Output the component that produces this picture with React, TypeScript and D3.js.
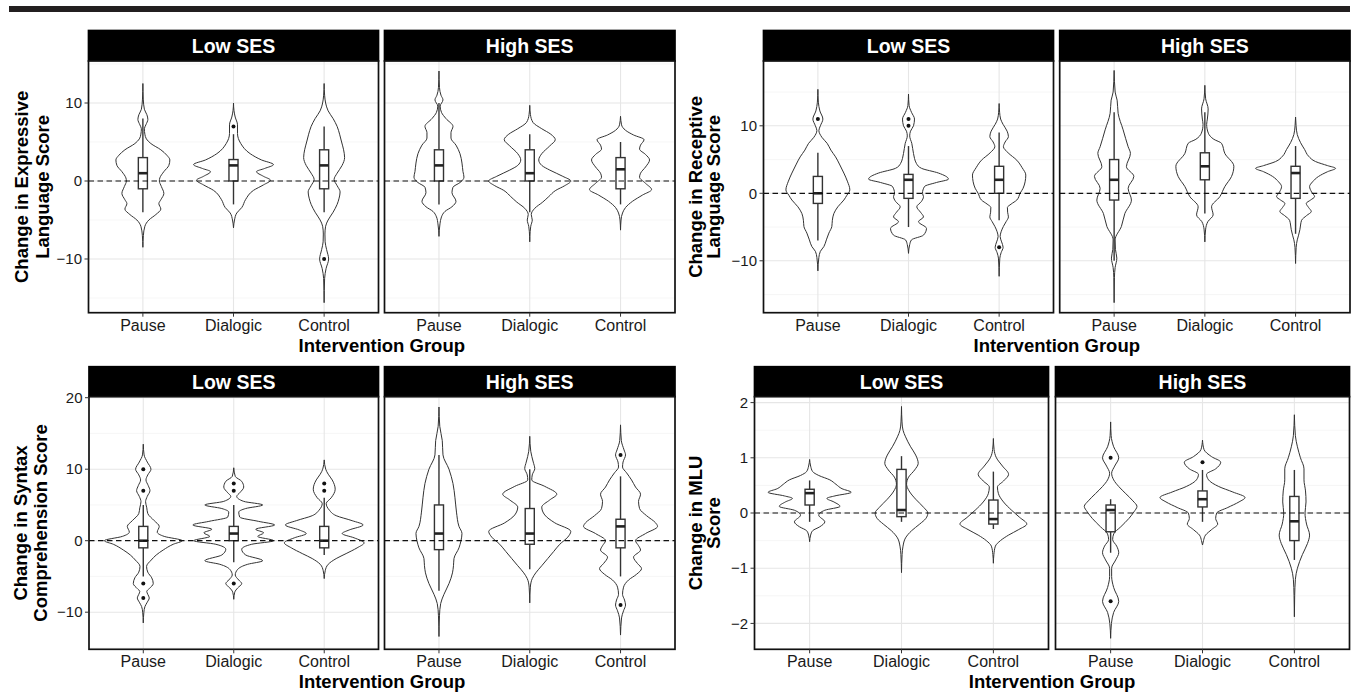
import { scaleLinear, scalePoint, area, curveMonotoneY } from 'd3';

const FONT = '"Liberation Sans", Arial, Helvetica, sans-serif';

const groups = ['Pause', 'Dialogic', 'Control'];
const sesLevels = ['Low SES', 'High SES'];

const measureTitles = [
  ['Change in Expressive', 'Language Score'],
  ['Change in Receptive', 'Language Score'],
  ['Change in Syntax', 'Comprehension Score'],
  ['Change in MLU', 'Score'],
];
const yDomains = [[-16.885, 15.385], [-17.69, 19.6], [-15.19, 20.14], [-2.469, 2.107]];
const majorTicks = [[-10, 0, 10], [-10, 0, 10], [-10, 0, 10, 20], [-2, -1, 0, 1, 2]];
const minorTicks = [[-15, -5, 5, 15], [-15, -5, 5, 15], [-15, -5, 5, 15], [-1.5, -0.5, 0.5, 1.5]];

const exprLowPause = [[12.5,0],[10.5,0.4],[9.2,1.5],[8.5,4],[7.9,5],[7.2,3],[6.7,1.5],[6,2],[5.4,3.5],[4.8,8],[4,18],[3.3,24],[2.7,27],[2,26],[1.2,21],[0.4,17],[0,16.5],[-0.7,18.5],[-1.6,21],[-2.4,18],[-2.9,16],[-3.6,18],[-4.3,13],[-5,6],[-5.8,2],[-7,0.5],[-8.5,0]];
const exprLowDialogic = [[10,0],[9,0.5],[8.2,1.7],[7.2,4],[6.1,4],[4.8,7.3],[3.5,16.7],[2.7,28],[2.1,40],[1.6,31],[1.2,23],[0.6,30],[0.1,37],[-0.5,30],[-1.2,20],[-2.4,12],[-3.4,8.3],[-4.1,3.3],[-5,1],[-6,0]];
const exprLowControl = [[12.5,0],[11,0.5],[10,1.5],[9,4],[8,9],[7,13],[6,15.5],[5,17.5],[4,19.5],[3,20.5],[2,18],[1,13],[0.2,10],[-0.6,13],[-1.4,16],[-2.2,15],[-3,13],[-4,9],[-5,4],[-5.8,1.5],[-6.8,0.8],[-7.8,1],[-8.8,2.5],[-10,4.5],[-11.2,2],[-12.5,0.5],[-15.6,0]];
const exprHighPause = [[14.1,0],[12,0.5],[11,2],[10.4,4],[9.6,1.2],[8.8,2.5],[8,7],[7,14],[6.2,12],[5.5,12],[4.6,17],[3.5,21],[2.3,23],[1.2,24],[0.5,25],[-0.2,21],[-0.8,14],[-1.5,13],[-2.6,17],[-3.3,13],[-3.9,6],[-4.6,2.5],[-5.5,1],[-7.1,0]];
const exprHighDialogic = [[9.7,0],[8.5,0.7],[7.5,3.3],[6.7,12],[6,21],[5.3,25.5],[4.5,20],[3.5,12],[2.7,9],[2,12],[1.4,20],[0.6,33],[0,41],[-0.6,35],[-1.2,26],[-2,19],[-2.7,13],[-3.5,5],[-4.3,1.5],[-5,2.5],[-5.8,1],[-6.5,0.4],[-7.8,0]];
const exprHighControl = [[8.3,0],[7.2,1],[6.5,5],[5.9,13],[5.3,23.5],[4.6,20],[4.1,19],[3.4,25],[2.7,29],[1.8,25],[1,20],[0.5,19],[-0.3,25],[-1.1,31],[-1.8,22],[-2.6,12],[-3.4,5],[-4.1,2],[-5,0.5],[-6.3,0]];

const recLowPause = [[15.4,0],[13.5,0.5],[12.2,2],[11,5],[10,2.5],[9.3,1],[8.3,4],[7.4,9.3],[6.4,13],[5.4,17.7],[4.2,22],[3,26],[1.8,29.5],[0.5,32],[-0.3,29],[-1,26],[-2,20],[-3,16],[-4,14.5],[-4.9,14],[-5.9,11],[-6.9,8.5],[-7.9,6],[-8.6,2.5],[-9.5,1],[-11.5,0]];
const recLowDialogic = [[14.7,0],[13,0.6],[12,3],[11,6],[10,5],[9.2,2],[8.5,1.2],[7.4,3.3],[5.9,5],[4.4,8],[3.7,13],[3,30],[2.1,40],[1.6,28],[1,16],[0,14],[-0.5,15],[-1.2,13],[-2,8.3],[-2.8,12],[-3.5,15],[-4.2,10],[-5.2,18],[-6.2,15],[-6.9,3],[-7.6,1.2],[-8.9,0]];
const recLowControl = [[13.3,0],[12,0.5],[11,1.5],[10.2,4],[9.2,8],[8.4,9.3],[7.6,6],[6.9,4.3],[6,9],[4.9,17.7],[3.8,23],[2.7,26.7],[1.7,26],[0.75,24],[0,21],[-1,17.7],[-1.6,12],[-2.1,8.3],[-2.8,8.5],[-3.5,9.3],[-4.2,7],[-4.9,4.3],[-5.7,2],[-6.4,1],[-7.2,2.5],[-8,4],[-8.8,2],[-9.6,0.7],[-12.3,0]];
const recHighPause = [[18.2,0],[15,1],[13.8,3],[11.85,4],[9.4,9],[6.9,14],[5.9,16.3],[3.95,12.3],[2.5,19.7],[0.74,14],[-1,17.3],[-3,10.7],[-4.9,7.3],[-6.9,1],[-8.3,1.3],[-9.6,2.7],[-11,1],[-12.5,0.3],[-16.2,0]];
const recHighDialogic = [[16,0],[14,0.8],[12.5,3.3],[11,2.5],[10.2,1.8],[8.9,3.5],[8,9],[7.4,16.7],[5.9,20],[4,29],[2.5,26.7],[1,20],[-0.5,15],[-2,6.7],[-3.2,8.3],[-4.2,3],[-5.3,0.8],[-7.2,0]];
const recHighControl = [[11.3,0],[10,0.5],[8.7,1.7],[7.5,5],[6.5,9],[5.5,13],[4.7,20],[4.1,32],[3.7,40],[3.2,32],[2.5,23],[1.7,17],[1,14],[0.2,16],[-0.5,19],[-1,15],[-1.5,10.7],[-2.1,13],[-2.7,15.7],[-3.3,11],[-4,6],[-4.7,5],[-5.4,4.3],[-6.2,3],[-6.9,1.7],[-8,0.6],[-10.4,0]];

const synLowPause = [[13.5,0],[12,0.8],[11,4],[10,7.7],[9.2,4.5],[8.5,2.7],[7.7,5],[7,6.7],[6.2,4],[5.45,2.3],[4.6,3.5],[3.8,4.5],[2.8,11],[2,16],[1.2,14],[0.6,21],[0,39],[-0.5,30],[-1.3,20],[-2,13],[-2.7,8],[-3.6,3.3],[-4.4,4.5],[-5.2,8.5],[-6,10],[-6.7,6],[-7.1,3.5],[-7.5,4.5],[-8,6],[-8.6,4],[-9.2,1.7],[-10,0.6],[-11.5,0]];
const synLowDialogic = [[10.2,0],[9,1.5],[8.3,8],[7.5,10],[6.7,6],[6.2,3],[5.5,10],[5,29],[4.5,12],[4,5],[3.3,6],[2.7,25],[2.2,41],[1.6,22],[1.1,30],[0.6,24],[0,40],[-0.5,18],[-1.2,8],[-2,12],[-2.8,29],[-3.3,14],[-4,4],[-4.8,1.5],[-5.5,5],[-6,8],[-6.6,4],[-7.2,1],[-8.2,0]];
const synLowControl = [[11.3,0],[10,1.5],[9.3,4],[8.5,8],[7.2,11],[6,7],[5.2,2],[4.3,5],[3.5,12],[2.8,28],[2.2,39],[1.5,25],[1,18],[0.4,30],[-0.3,40],[-1,33],[-1.8,22],[-2.5,12],[-3.3,4],[-4.2,1],[-5.3,0]];
const synHighPause = [[18.7,0],[16,0.8],[14,3.3],[12,4],[10,10],[8,14],[6,16],[4,17.5],[2,20],[1,23],[0,22],[-1,20],[-2.5,15],[-3.5,14.5],[-4.5,13.5],[-6,10],[-7.5,5],[-8.8,1.7],[-10.5,0.5],[-13.4,0]];
const synHighDialogic = [[14.6,0],[12.5,1],[11,3.5],[10.1,5],[9.2,2.5],[8.5,2],[7.6,15],[6.5,27],[5.7,20],[4.7,12],[3.6,15],[2.5,25],[1.3,41],[0.5,38],[-0.5,30],[-1.5,24],[-2.5,18],[-3.5,12],[-4.5,6],[-5.3,2.5],[-6.5,0.6],[-8.7,0]];
const synHighControl = [[16.2,0],[14,0.8],[12.7,3.5],[12,5],[11,2.5],[10.3,2],[9.5,6],[8.5,11],[7.5,15],[6.5,20],[5.5,18],[4.5,19],[3.5,26],[2.5,35],[2,37],[1,25],[0,15],[-0.7,18],[-1.3,20],[-2.3,13],[-3.2,17],[-3.9,21],[-4.7,16],[-5.5,8],[-6.5,3],[-7.5,2],[-8.3,4],[-9,5],[-9.8,3],[-10.8,1],[-13.2,0]];

const mluLowPause = [[0.97,0],[0.85,1],[0.75,3],[0.68,9],[0.6,20],[0.52,26],[0.44,32],[0.375,41],[0.31,25],[0.265,17],[0.2,24],[0.12,30],[0.05,15],[-0.04,9],[-0.16,15],[-0.25,10],[-0.32,3],[-0.4,1],[-0.52,0]];
const mluLowDialogic = [[1.93,0],[1.65,0.5],[1.5,1.5],[1.38,4],[1.2,9],[1.05,14],[0.9,16.5],[0.78,13],[0.65,7],[0.52,5],[0.4,7.5],[0.25,14],[0.1,22],[0,26],[-0.1,24],[-0.2,18],[-0.32,10],[-0.45,4],[-0.6,1.5],[-0.75,0.6],[-1.08,0]];
const mluLowControl = [[1.35,0],[1.15,0.7],[1,3],[0.85,9],[0.7,15],[0.58,10],[0.47,4],[0.35,5],[0.2,10],[0.05,18],[-0.08,26],[-0.2,33],[-0.3,25],[-0.4,15],[-0.5,7],[-0.6,2],[-0.75,0.5],[-0.91,0]];
const mluHighPause = [[1.65,0],[1.4,0.5],[1.2,3],[1,8],[0.85,4],[0.72,1],[0.6,3],[0.48,8],[0.35,15],[0.22,22],[0.12,26],[0.02,23],[-0.1,18],[-0.25,10],[-0.38,3],[-0.48,2],[-0.6,6],[-0.72,8],[-0.85,5],[-1,1],[-1.15,1],[-1.35,3],[-1.6,8],[-1.8,3],[-2,0.8],[-2.27,0]];
const mluHighDialogic = [[1.32,0],[1.15,1.5],[1.02,9],[0.92,18],[0.8,13],[0.7,4],[0.6,6],[0.48,16],[0.38,30],[0.28,42],[0.2,36],[0.1,25],[0,14],[-0.1,13],[-0.2,15],[-0.3,9],[-0.4,3],[-0.5,1],[-0.58,0]];
const mluHighControl = [[1.78,0],[1.4,1],[1.2,3],[1,6],[0.8,9.5],[0.6,9.5],[0.4,11],[0.2,11.5],[0,10.5],[-0.2,12],[-0.4,15],[-0.55,13],[-0.75,8],[-1,3],[-1.2,1],[-1.5,0.3],[-1.88,0]];

// boxplots: [lower whisker, Q1, median, Q3, upper whisker]
const exprLowBox = [[-4, -1, 1, 3, 8], [-3, 0, 2, 2.75, 6], [-4, -1, 2, 4, 7]];
const exprHighBox = [[-3, 0, 2, 4, 10], [-4, 0, 1, 4, 6], [-3, -1, 1.5, 3, 5]];
const recLowBox = [[-7, -1.5, 0, 2.5, 6], [-5, -0.75, 2, 2.8, 7], [-4, 0, 2, 4, 9]];
const recHighBox = [[-10, -1, 2, 5, 12], [-3, 2, 4, 6, 12], [-6, -0.75, 3, 4, 7]];
const synLowBox = [[-5, -1, 0, 2, 5], [-3, 0, 1, 2, 5], [-2, -1, 0, 2, 6]];
const synHighBox = [[-7, -1.25, 1, 5, 12], [-4, -0.5, 1, 4.5, 10], [-5, -1, 2, 3, 9]];
const mluLowBox = [[-0.16, 0.145, 0.36, 0.43, 0.59], [-0.16, -0.066, 0.054, 0.79, 1.03], [-0.29, -0.2, -0.11, 0.235, 0.75]];
const mluHighBox = [[-0.72, -0.34, 0.054, 0.145, 0.25], [-0.16, 0.11, 0.25, 0.4, 0.78], [-0.85, -0.5, -0.15, 0.3, 0.78]];

const exprLowOut = [[], [7], [-10]];
const exprHighOut = [[], [], []];
const recLowOut = [[11], [11, 10], [-8]];
const recHighOut = [[], [], []];
const synLowOut = [[10, 7, -6, -8], [8, 7, -6], [8, 7]];
const synHighOut = [[], [], [12, -9]];
const mluLowOut = [[], [], []];
const mluHighOut = [[1, -1.6], [0.92], []];

const violins = [
  [[exprLowPause, exprLowDialogic, exprLowControl], [exprHighPause, exprHighDialogic, exprHighControl]],
  [[recLowPause, recLowDialogic, recLowControl], [recHighPause, recHighDialogic, recHighControl]],
  [[synLowPause, synLowDialogic, synLowControl], [synHighPause, synHighDialogic, synHighControl]],
  [[mluLowPause, mluLowDialogic, mluLowControl], [mluHighPause, mluHighDialogic, mluHighControl]],
];
const boxes = [[exprLowBox, exprHighBox], [recLowBox, recHighBox], [synLowBox, synHighBox], [mluLowBox, mluHighBox]];
const outliers = [[exprLowOut, exprHighOut], [recLowOut, recHighOut], [synLowOut, synHighOut], [mluLowOut, mluHighOut]];

// page layout of the four plots
const layout = [
  { top: 61, bottom: 312.7, stripTop: 30.5, facets: [[88.5, 378.5], [384.5, 675]], titleX: [22, 43] },
  { top: 61, bottom: 312.7, stripTop: 30.5, facets: [[763.5, 1053.5], [1059.7, 1350]], titleX: [695.5, 714] },
  { top: 396.7, bottom: 649.3, stripTop: 366.7, facets: [[89, 378.5], [384.5, 675]], titleX: [21, 41] },
  { top: 396.7, bottom: 649.3, stripTop: 366.7, facets: [[754.5, 1048.5], [1055.5, 1349.5]], titleX: [695.5, 714] },
];

const ink = '#1a1a1a';
const fmt = (v: number) => (v < 0 ? '\u2212' + Math.abs(v) : String(v));

function Facet({ m, f, x0, x1, top, bottom, y }: any) {
  const x = scalePoint<string>().domain(groups).range([x0, x1]).padding(0.6);
  const step = x.step();
  const w = scaleLinear().domain([0, 45]).range([0, 0.496 * step]);
  const boxHalf = 0.05 * step;

  return (
    <g>
      <rect x={x0} y={top} width={x1 - x0} height={bottom - top} fill="#fff" />
      {minorTicks[m].map((t) => (
        <line key={'mi' + t} x1={x0} x2={x1} y1={y(t)} y2={y(t)} stroke="#f2f2f2" strokeWidth={0.7} />
      ))}
      {majorTicks[m].map((t) => (
        <line key={'ma' + t} x1={x0} x2={x1} y1={y(t)} y2={y(t)} stroke="#e6e6e6" strokeWidth={1.1} />
      ))}
      {groups.map((g) => (
        <line key={'v' + g} x1={x(g)} x2={x(g)} y1={top} y2={bottom} stroke="#e6e6e6" strokeWidth={1.1} />
      ))}
      {groups.map((g, i) => {
        const cx = x(g) as number;
        const path = area<number[]>()
          .y((d) => y(d[0]))
          .x0((d) => cx - w(d[1]))
          .x1((d) => cx + w(d[1]))
          .curve(curveMonotoneY);
        const [lo, q1, med, q3, hi] = boxes[m][f][i];
        return (
          <g key={g}>
            <path d={path(violins[m][f][i]) || ''} fill="#fff" stroke="#333" strokeWidth={1} />
            <line x1={cx} x2={cx} y1={y(hi)} y2={y(q3)} stroke="#333" strokeWidth={1.4} />
            <line x1={cx} x2={cx} y1={y(q1)} y2={y(lo)} stroke="#333" strokeWidth={1.4} />
            <rect x={cx - boxHalf} y={y(q3)} width={2 * boxHalf} height={y(q1) - y(q3)} fill="#fff" stroke="#333" strokeWidth={1.4} />
            <line x1={cx - boxHalf} x2={cx + boxHalf} y1={y(med)} y2={y(med)} stroke="#222" strokeWidth={2.6} />
            {outliers[m][f][i].map((o, k) => (
              <circle key={k} cx={cx} cy={y(o)} r={2} fill="#111" />
            ))}
          </g>
        );
      })}
      <line x1={x0} x2={x1} y1={y(0)} y2={y(0)} stroke="#111" strokeWidth={1.2} strokeDasharray="5.5,3.5" />
      <rect x={x0} y={top} width={x1 - x0} height={bottom - top} fill="none" stroke="#111" strokeWidth={1.7} />
      {groups.map((g) => (
        <g key={'xt' + g}>
          <line x1={x(g)} x2={x(g)} y1={bottom} y2={bottom + 4} stroke="#333" strokeWidth={1} />
          <text x={x(g)} y={bottom + 12.5} dy="0.35em" textAnchor="middle" fontSize={16} fill={ink}>
            {g}
          </text>
        </g>
      ))}
    </g>
  );
}

function Plot({ m }: { m: number }) {
  const L = layout[m];
  const y = scaleLinear().domain(yDomains[m]).range([L.bottom, L.top]);
  const left = L.facets[0][0];
  const right = L.facets[1][1];
  const midY = (L.top + L.bottom) / 2;
  return (
    <g>
      {L.facets.map(([x0, x1], f) => (
        <g key={f}>
          <rect x={x0} y={L.stripTop} width={x1 - x0} height={L.top - L.stripTop} fill="#000" stroke="#000" strokeWidth={1.7} />
          <text x={(x0 + x1) / 2} y={(L.stripTop + L.top) / 2} dy="0.36em" textAnchor="middle" fontSize={19.5} fontWeight="bold" fill="#fff">
            {sesLevels[f]}
          </text>
          <Facet m={m} f={f} x0={x0} x1={x1} top={L.top} bottom={L.bottom} y={y} />
        </g>
      ))}
      {majorTicks[m].map((t) => (
        <g key={t}>
          <line x1={left - 4} x2={left} y1={y(t)} y2={y(t)} stroke="#333" strokeWidth={1} />
          <text x={left - 6.5} y={y(t)} dy="0.35em" textAnchor="end" fontSize={15} fill={ink}>
            {fmt(t)}
          </text>
        </g>
      ))}
      {measureTitles[m].map((line, k) => (
        <text
          key={k}
          transform={`translate(${L.titleX[k]},${midY}) rotate(-90)`}
          dy="0.35em"
          textAnchor="middle"
          fontSize={18.5}
          fontWeight="bold"
          fill="#000"
        >
          {line}
        </text>
      ))}
      <text x={(left + right) / 2} y={L.bottom + 32.5} dy="0.35em" textAnchor="middle" fontSize={18.5} fontWeight="bold" fill="#000">
        Intervention Group
      </text>
    </g>
  );
}

export default function App() {
  return (
    <svg
      width={1356}
      height={699}
      fontFamily={FONT}
      style={{ position: 'absolute', left: 0, top: 0, background: '#fff' }}
    >
      <rect x={9} y={6} width={1341} height={6} fill="#231f20" />
      {layout.map((_, m) => (
        <Plot key={m} m={m} />
      ))}
    </svg>
  );
}
